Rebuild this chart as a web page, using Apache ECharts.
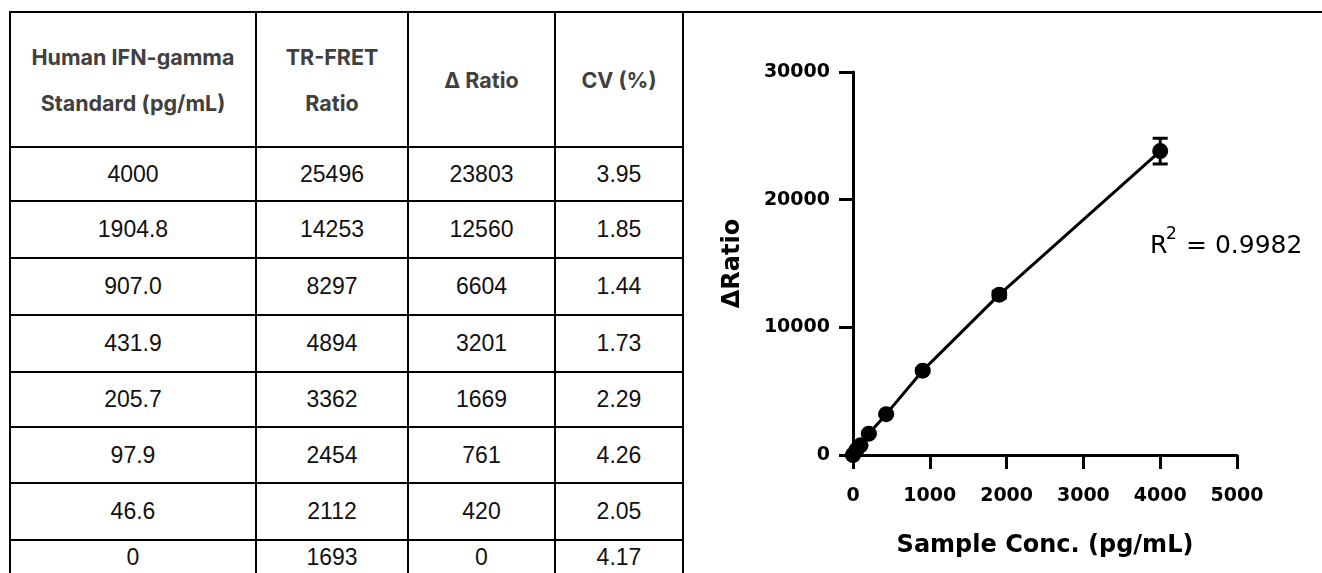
<!DOCTYPE html>
<html>
<head>
<meta charset="utf-8">
<script src="https://cdn.jsdelivr.net/npm/echarts@6/dist/echarts.min.js"></script>
<style>
  html, body { margin: 0; padding: 0; background: #fff; width: 1322px; height: 573px; overflow: hidden; }
  #chart { position: absolute; left: 0; top: 0; width: 1322px; height: 573px; }
  #tbl { position: absolute; left: 9px; top: 11px; border-collapse: collapse; table-layout: fixed; z-index: 2; background: #fff; }
  #tbl td, #tbl th { border: 2px solid #000; text-align: center; vertical-align: middle; padding: 0; }
  #tbl th { font-family: Inter, "Noto Sans", sans-serif; font-weight: 700; font-size: 21.5px; color: #404040; line-height: 46px; }
  #tbl td { font-family: "Liberation Sans", Arial, sans-serif; font-weight: 400; font-size: 23px; color: #111; }
  #topline { position: absolute; left: 683px; top: 11px; width: 640px; height: 2px; background: #000; z-index: 3; }
</style>
</head>
<body>
<div id="chart"></div>
<table id="tbl"></table>
<div id="topline"></div>
<script>
// ---- data ----
const headers = ['Human IFN-gamma<br>Standard (pg/mL)', 'TR-FRET<br>Ratio', '\u0394 Ratio', 'CV (%)'];
const standardLabels = ['4000', '1904.8', '907.0', '431.9', '205.7', '97.9', '46.6', '0'];
const concValues = [4000, 1904.8, 907.0, 431.9, 205.7, 97.9, 46.6, 0];
const trFretRatio = [25496, 14253, 8297, 4894, 3362, 2454, 2112, 1693];
const deltaRatio = [23803, 12560, 6604, 3201, 1669, 761, 420, 0];
const cvPercent = ['3.95', '1.85', '1.44', '1.73', '2.29', '4.26', '2.05', '4.17'];
const errorSD = [1007, 264, 119, 85, 77, 105, 43, 71];
const rSquaredText = '= 0.9982';

// ---- table ----
const colWidths = [246, 152, 147, 128];
const rowHeights = [135, 54, 57, 57, 57, 55, 56, 57, 34];
const tbl = document.getElementById('tbl');
let html = '<colgroup>' + colWidths.map(w => '<col style="width:' + w + 'px">').join('') + '</colgroup>';
html += '<tr style="height:' + rowHeights[0] + 'px">' + headers.map(h => '<th>' + h + '</th>').join('') + '</tr>';
for (let i = 0; i < standardLabels.length; i++) {
  html += '<tr style="height:' + rowHeights[i + 1] + 'px"><td>' + standardLabels[i] + '</td><td>' + trFretRatio[i] +
    '</td><td>' + deltaRatio[i] + '</td><td>' + cvPercent[i] + '</td></tr>';
}
tbl.innerHTML = html;

// ---- chart ----
const chart = echarts.init(document.getElementById('chart'), null, { renderer: 'canvas' });
const pts = concValues.map((x, i) => [x, deltaRatio[i]]);
const errPts = concValues.map((x, i) => [x, deltaRatio[i], errorSD[i]]);
const FONT = 'DejaVu Sans';
const plain = v => String(v);

chart.setOption({
  backgroundColor: 'transparent',
  animation: false,
  grid: { left: 853, top: 72, width: 384, height: 383, containLabel: false },
  xAxis: {
    type: 'value', min: 0, max: 5000, interval: 1000,
    name: 'Sample Conc. (pg/mL)', nameLocation: 'middle', nameGap: 79,
    nameTextStyle: { fontFamily: FONT, fontWeight: 'bold', fontSize: 24, color: '#000' },
    axisLine: { show: true, onZero: false, lineStyle: { color: '#000', width: 3 } },
    axisTick: { show: true, inside: false, length: 14, lineStyle: { color: '#000', width: 3 } },
    axisLabel: { margin: 32, fontFamily: FONT, fontWeight: 'bold', fontSize: 19, color: '#000', formatter: plain },
    splitLine: { show: false }
  },
  yAxis: {
    type: 'value', min: 0, max: 30000, interval: 10000,
    name: '\u0394Ratio', nameLocation: 'middle', nameGap: 108,
    nameTextStyle: { fontFamily: FONT, fontWeight: 'bold', fontSize: 24, color: '#000' },
    axisLine: { show: true, onZero: false, lineStyle: { color: '#000', width: 3 } },
    axisTick: { show: true, inside: false, length: 14, lineStyle: { color: '#000', width: 3 } },
    axisLabel: { margin: 23, fontFamily: FONT, fontWeight: 'bold', fontSize: 19, color: '#000', formatter: plain },
    splitLine: { show: false }
  },
  series: [
    {
      type: 'custom',
      data: errPts,
      encode: { x: 0, y: 1 },
      z: 2,
      renderItem: function (params, api) {
        const x = api.value(0), y = api.value(1), e = api.value(2);
        const t = api.coord([x, y + e]);
        const b = api.coord([x, y - e]);
        const hw = 7.5;
        const st = { stroke: '#000', lineWidth: 3 };
        return {
          type: 'group',
          children: [
            { type: 'line', shape: { x1: t[0], y1: t[1], x2: b[0], y2: b[1] }, style: st },
            { type: 'line', shape: { x1: t[0] - hw, y1: t[1], x2: t[0] + hw, y2: t[1] }, style: st },
            { type: 'line', shape: { x1: b[0] - hw, y1: b[1], x2: b[0] + hw, y2: b[1] }, style: st }
          ]
        };
      }
    },
    {
      type: 'line',
      data: pts,
      z: 3,
      symbol: 'circle',
      symbolSize: 16,
      showSymbol: true,
      itemStyle: { color: '#000' },
      lineStyle: { color: '#000', width: 3 },
      smooth: false
    }
  ],
  graphic: [
    { type: 'text', x: 1150, y: 246, style: { text: 'R', fontFamily: FONT, fontSize: 25, fill: '#000', verticalAlign: 'middle' } },
    { type: 'text', x: 1166, y: 235, style: { text: '2', fontFamily: FONT, fontSize: 17, fill: '#000', verticalAlign: 'middle' } },
    { type: 'text', x: 1186, y: 246, style: { text: rSquaredText, fontFamily: FONT, fontSize: 25, fill: '#000', verticalAlign: 'middle' } }
  ]
});
</script>
</body>
</html>
